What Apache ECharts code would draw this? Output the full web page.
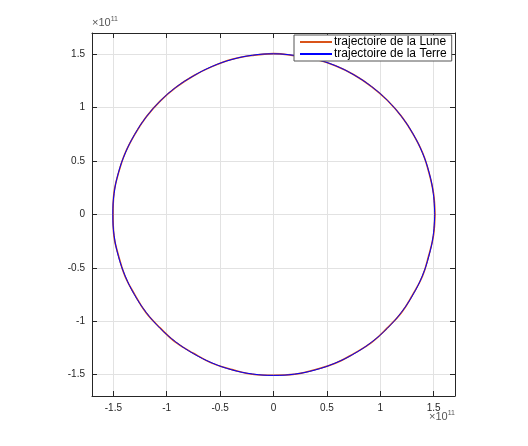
<!DOCTYPE html>
<html>
<head>
<meta charset="utf-8">
<script src="https://cdn.jsdelivr.net/npm/echarts@6/dist/echarts.min.js"></script>
<style>html,body{margin:0;padding:0;background:#fff;}#c{width:528px;height:446px;}</style>
</head>
<body>
<div id="c"></div>
<script>
// Values in units of 1e11 m
const seriesNames = ['trajectoire de la Lune', 'trajectoire de la Terre'];
const terreX = [1.51, 1.497, 1.458, 1.395, 1.307, 1.198, 1.068, 0.919, 0.755, 0.578, 0.391, 0.197, 0.0,
  -0.196, -0.389, -0.575, -0.750, -0.915, -1.062, -1.191, -1.300, -1.388, -1.453, -1.493, -1.505,
  -1.493, -1.453, -1.389, -1.302, -1.193, -1.064, -0.916, -0.752, -0.576, -0.39, -0.196, 0.0,
  0.197, 0.391, 0.577, 0.754, 0.918, 1.066, 1.196, 1.305, 1.393, 1.455, 1.496, 1.51];
const terreY = [0.0, 0.197, 0.391, 0.578, 0.755, 0.919, 1.068, 1.198, 1.307, 1.395, 1.455, 1.49, 1.505,
  1.492, 1.452, 1.387, 1.298, 1.191, 1.062, 0.915, 0.751, 0.576, 0.390, 0.196, 0.0,
  -0.196, -0.390, -0.576, -0.752, -0.916, -1.064, -1.193, -1.302, -1.39, -1.455, -1.494, -1.507,
  -1.495, -1.456, -1.392, -1.305, -1.196, -1.066, -0.918, -0.754, -0.577, -0.391, -0.197, 0.0];
const luneX = [1.512, 1.499, 1.456, 1.397, 1.305, 1.2, 1.066, 0.921, 0.753, 0.58, 0.389, 0.199, -0.002,
  -0.198, -0.387, -0.577, -0.748, -0.917, -1.06, -1.193, -1.298, -1.39, -1.451, -1.495, -1.503,
  -1.495, -1.451, -1.391, -1.3, -1.195, -1.062, -0.918, -0.75, -0.578, -0.388, -0.198, 0.002,
  0.199, 0.389, 0.579, 0.752, 0.92, 1.064, 1.198, 1.303, 1.395, 1.453, 1.498, 1.512];
const luneY = [0.002, 0.195, 0.393, 0.576, 0.757, 0.917, 1.07, 1.196, 1.309, 1.393, 1.457, 1.488, 1.507,
  1.49, 1.454, 1.385, 1.3, 1.189, 1.064, 0.913, 0.753, 0.574, 0.392, 0.194, 0.002,
  -0.198, -0.388, -0.578, -0.75, -0.918, -1.062, -1.195, -1.3, -1.392, -1.453, -1.496, -1.505,
  -1.497, -1.454, -1.394, -1.303, -1.198, -1.064, -0.92, -0.752, -0.579, -0.389, -0.199, 0.002];
const xTicks = [-1.5, -1, -0.5, 0, 0.5, 1, 1.5];
const yTicks = [-1.5, -1, -0.5, 0, 0.5, 1, 1.5];
const xTickLabels = ['-1.5', '-1', '-0.5', '0', '0.5', '1', '1.5'];
const yTickLabels = ['-1.5', '-1', '-0.5', '0', '0.5', '1', '1.5'];
const exponentLabel = '11';

const AX = '#262626';
const FONT = 'Liberation Sans, Arial, Helvetica, sans-serif';
function pairs(xs, ys) { return xs.map((x, i) => [x, ys[i]]); }
function lab(vals, labels) { return v => { const i = vals.findIndex(t => Math.abs(t - v) < 1e-9); return i >= 0 ? labels[i] : ''; }; }

const chart = echarts.init(document.getElementById('c'), null, {renderer: 'canvas'});
const baseAxis = (pos, ticks, labels, showLabel, showSplit) => ({
  type: 'value', min: -1.7, max: 1.7, position: pos,
  axisLine: {show: true, onZero: false, lineStyle: {color: AX, width: 1}},
  axisTick: {show: true, inside: true, length: 5, customValues: ticks, lineStyle: {color: AX}},
  axisLabel: {show: showLabel, customValues: ticks, formatter: lab(ticks, labels), color: AX, fontSize: 10, fontFamily: FONT, margin: 7},
  splitLine: {show: showSplit, lineStyle: {color: '#e2e2e2', width: 1}}
});
const expStyle = {text: '{a|×10}{s|' + exponentLabel + '}', rich: {a: {fontSize: 11, fontFamily: FONT, fill: '#555', padding: [6, 0, 0, 0]}, s: {fontSize: 7, fontFamily: FONT, fill: '#555'}}};
chart.setOption({
  animation: false,
  backgroundColor: '#fff',
  grid: {left: 92, top: 33, width: 363, height: 363},
  xAxis: [baseAxis('bottom', xTicks, xTickLabels, true, true), baseAxis('top', xTicks, xTickLabels, false, false)],
  yAxis: [baseAxis('left', yTicks, yTickLabels, true, true), baseAxis('right', yTicks, yTickLabels, false, false)],
  legend: {
    orient: 'vertical', left: 294, top: 35, itemGap: 0, padding: [1, 5, 1, 6],
    backgroundColor: '#fff', borderColor: '#555', borderWidth: 1,
    itemWidth: 32, itemHeight: 2, itemStyle: {borderWidth: 0},
    textStyle: {fontSize: 12, fontFamily: FONT, color: '#000', padding: [0, 0, 0, -3]},
    data: [{name: seriesNames[0], icon: 'rect'}, {name: seriesNames[1], icon: 'rect'}]
  },
  graphic: [
    {type: 'text', left: 92, top: 16, style: expStyle},
    {type: 'text', right: 73, top: 410, style: expStyle}
  ],
  series: [
    {name: seriesNames[0], type: 'line', xAxisIndex: 0, yAxisIndex: 0, data: pairs(luneX, luneY), smooth: 0.4, showSymbol: false, symbol: 'none', color: '#D95319', lineStyle: {color: '#D95319', width: 1.6}},
    {name: seriesNames[1], type: 'line', xAxisIndex: 0, yAxisIndex: 0, data: pairs(terreX, terreY), smooth: 0.4, showSymbol: false, symbol: 'none', color: '#0000FF', lineStyle: {color: '#0000FF', width: 1}}
  ]
});
</script>
</body>
</html>
